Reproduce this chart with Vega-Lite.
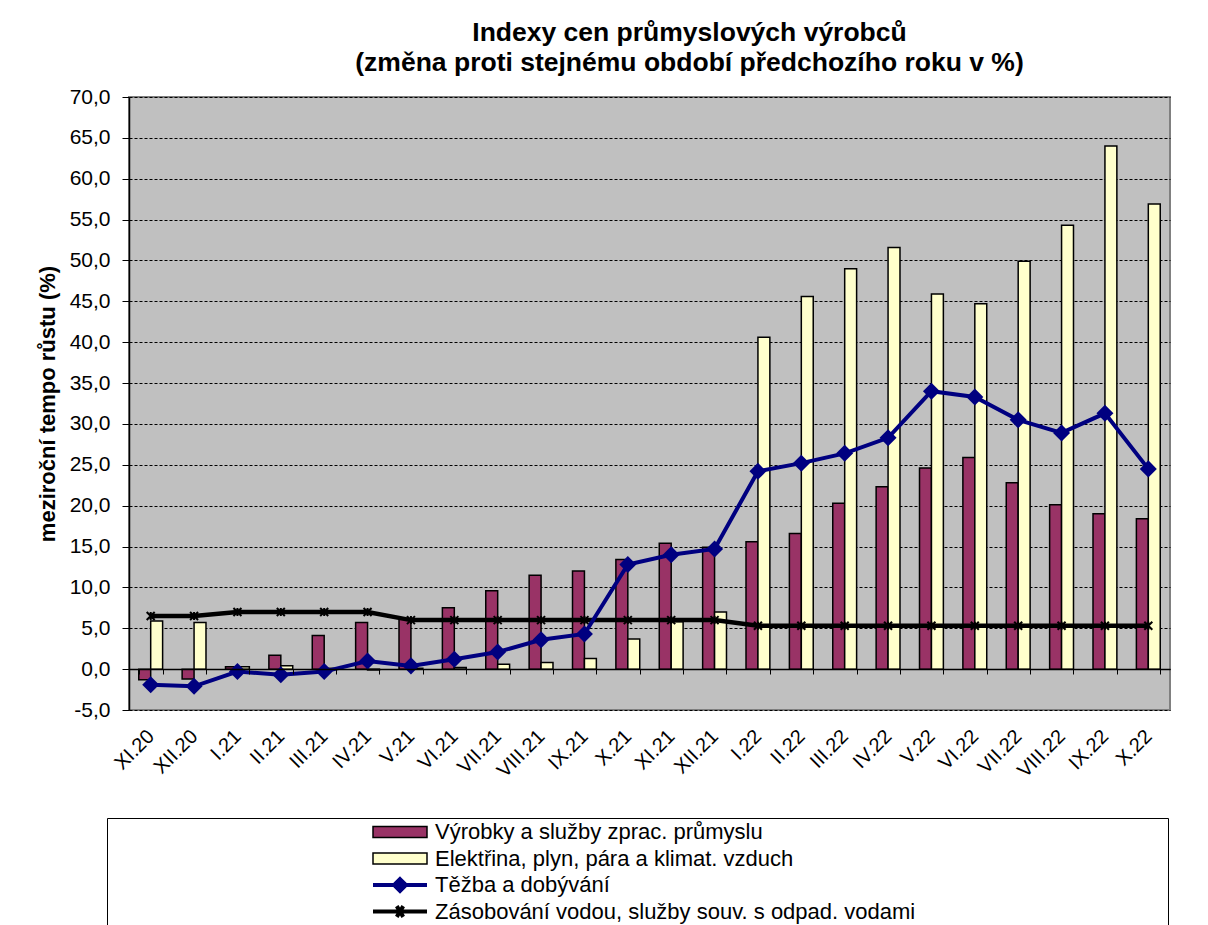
{
  "$schema": "https://vega.github.io/schema/vega-lite/v6.json",
  "width": 1041,
  "height": 613,
  "autosize": "none",
  "padding": {"left": 129, "top": 97, "right": 38, "bottom": 215},
  "background": "white",
  "config": {
    "font": "Liberation Sans",
    "view": {"fill": "#C0C0C0", "stroke": "#808080", "strokeWidth": 2},
    "legend": {
      "titleOrient": "right",
      "titleFontSize": 1,
      "titlePadding": 251,
      "orient": "none",
      "legendX": -22,
      "legendY": 721,
      "direction": "vertical",
      "fillColor": "white",
      "strokeColor": "black",
      "padding": 2,
      "symbolSize": 2916,
      "symbolOffset": 280,
      "labelOffset": 24,
      "labelFont": "Liberation Sans",
      "labelFontSize": 22,
      "labelColor": "black",
      "labelLimit": 700,
      "clipHeight": 24,
      "rowPadding": 2.5
    }
  },
  "title": {
    "text": ["Indexy cen průmyslových výrobců", "(změna proti stejnému období předchozího roku v %)"],
    "font": "Liberation Sans",
    "fontSize": 26.5,
    "fontWeight": "bold",
    "color": "black",
    "anchor": "middle",
    "frame": "group",
    "dx": 40,
    "offset": 10,
    "lineHeight": 30
  },
  "data": {"values": [
    {"m":"XI.20","s":"Výrobky a služby zprac. průmyslu","v":-1.3},
    {"m":"XII.20","s":"Výrobky a služby zprac. průmyslu","v":-1.2},
    {"m":"I.21","s":"Výrobky a služby zprac. průmyslu","v":0.3},
    {"m":"II.21","s":"Výrobky a služby zprac. průmyslu","v":1.7},
    {"m":"III.21","s":"Výrobky a služby zprac. průmyslu","v":4.1},
    {"m":"IV.21","s":"Výrobky a služby zprac. průmyslu","v":5.7},
    {"m":"V.21","s":"Výrobky a služby zprac. průmyslu","v":6.1},
    {"m":"VI.21","s":"Výrobky a služby zprac. průmyslu","v":7.5},
    {"m":"VII.21","s":"Výrobky a služby zprac. průmyslu","v":9.6},
    {"m":"VIII.21","s":"Výrobky a služby zprac. průmyslu","v":11.5},
    {"m":"IX.21","s":"Výrobky a služby zprac. průmyslu","v":12.0},
    {"m":"X.21","s":"Výrobky a služby zprac. průmyslu","v":13.4},
    {"m":"XI.21","s":"Výrobky a služby zprac. průmyslu","v":15.4},
    {"m":"XII.21","s":"Výrobky a služby zprac. průmyslu","v":14.9},
    {"m":"I.22","s":"Výrobky a služby zprac. průmyslu","v":15.6},
    {"m":"II.22","s":"Výrobky a služby zprac. průmyslu","v":16.6},
    {"m":"III.22","s":"Výrobky a služby zprac. průmyslu","v":20.3},
    {"m":"IV.22","s":"Výrobky a služby zprac. průmyslu","v":22.3},
    {"m":"V.22","s":"Výrobky a služby zprac. průmyslu","v":24.6},
    {"m":"VI.22","s":"Výrobky a služby zprac. průmyslu","v":25.9},
    {"m":"VII.22","s":"Výrobky a služby zprac. průmyslu","v":22.8},
    {"m":"VIII.22","s":"Výrobky a služby zprac. průmyslu","v":20.1},
    {"m":"IX.22","s":"Výrobky a služby zprac. průmyslu","v":19.0},
    {"m":"X.22","s":"Výrobky a služby zprac. průmyslu","v":18.4},
    {"m":"XI.20","s":"Elektřina, plyn, pára a klimat. vzduch","v":5.9},
    {"m":"XII.20","s":"Elektřina, plyn, pára a klimat. vzduch","v":5.7},
    {"m":"I.21","s":"Elektřina, plyn, pára a klimat. vzduch","v":0.3},
    {"m":"II.21","s":"Elektřina, plyn, pára a klimat. vzduch","v":0.4},
    {"m":"III.21","s":"Elektřina, plyn, pára a klimat. vzduch","v":0.1},
    {"m":"IV.21","s":"Elektřina, plyn, pára a klimat. vzduch","v":-0.1},
    {"m":"V.21","s":"Elektřina, plyn, pára a klimat. vzduch","v":0.1},
    {"m":"VI.21","s":"Elektřina, plyn, pára a klimat. vzduch","v":0.2},
    {"m":"VII.21","s":"Elektřina, plyn, pára a klimat. vzduch","v":0.6},
    {"m":"VIII.21","s":"Elektřina, plyn, pára a klimat. vzduch","v":0.8},
    {"m":"IX.21","s":"Elektřina, plyn, pára a klimat. vzduch","v":1.3},
    {"m":"X.21","s":"Elektřina, plyn, pára a klimat. vzduch","v":3.7},
    {"m":"XI.21","s":"Elektřina, plyn, pára a klimat. vzduch","v":5.8},
    {"m":"XII.21","s":"Elektřina, plyn, pára a klimat. vzduch","v":7.0},
    {"m":"I.22","s":"Elektřina, plyn, pára a klimat. vzduch","v":40.6},
    {"m":"II.22","s":"Elektřina, plyn, pára a klimat. vzduch","v":45.6},
    {"m":"III.22","s":"Elektřina, plyn, pára a klimat. vzduch","v":49.0},
    {"m":"IV.22","s":"Elektřina, plyn, pára a klimat. vzduch","v":51.6},
    {"m":"V.22","s":"Elektřina, plyn, pára a klimat. vzduch","v":45.9},
    {"m":"VI.22","s":"Elektřina, plyn, pára a klimat. vzduch","v":44.7},
    {"m":"VII.22","s":"Elektřina, plyn, pára a klimat. vzduch","v":49.9},
    {"m":"VIII.22","s":"Elektřina, plyn, pára a klimat. vzduch","v":54.3},
    {"m":"IX.22","s":"Elektřina, plyn, pára a klimat. vzduch","v":64.0},
    {"m":"X.22","s":"Elektřina, plyn, pára a klimat. vzduch","v":56.9},
    {"m":"XI.20","s":"Těžba a dobývání","v":-1.9},
    {"m":"XII.20","s":"Těžba a dobývání","v":-2.1},
    {"m":"I.21","s":"Těžba a dobývání","v":-0.3},
    {"m":"II.21","s":"Těžba a dobývání","v":-0.7},
    {"m":"III.21","s":"Těžba a dobývání","v":-0.3},
    {"m":"IV.21","s":"Těžba a dobývání","v":1.0},
    {"m":"V.21","s":"Těžba a dobývání","v":0.4},
    {"m":"VI.21","s":"Těžba a dobývání","v":1.2},
    {"m":"VII.21","s":"Těžba a dobývání","v":2.1},
    {"m":"VIII.21","s":"Těžba a dobývání","v":3.6},
    {"m":"IX.21","s":"Těžba a dobývání","v":4.3},
    {"m":"X.21","s":"Těžba a dobývání","v":12.8},
    {"m":"XI.21","s":"Těžba a dobývání","v":14.0},
    {"m":"XII.21","s":"Těžba a dobývání","v":14.7},
    {"m":"I.22","s":"Těžba a dobývání","v":24.2},
    {"m":"II.22","s":"Těžba a dobývání","v":25.2},
    {"m":"III.22","s":"Těžba a dobývání","v":26.4},
    {"m":"IV.22","s":"Těžba a dobývání","v":28.3},
    {"m":"V.22","s":"Těžba a dobývání","v":34.0},
    {"m":"VI.22","s":"Těžba a dobývání","v":33.3},
    {"m":"VII.22","s":"Těžba a dobývání","v":30.5},
    {"m":"VIII.22","s":"Těžba a dobývání","v":28.9},
    {"m":"IX.22","s":"Těžba a dobývání","v":31.3},
    {"m":"X.22","s":"Těžba a dobývání","v":24.5},
    {"m":"XI.20","s":"Zásobování vodou, služby souv. s odpad. vodami","v":6.5},
    {"m":"XII.20","s":"Zásobování vodou, služby souv. s odpad. vodami","v":6.5},
    {"m":"I.21","s":"Zásobování vodou, služby souv. s odpad. vodami","v":7.0},
    {"m":"II.21","s":"Zásobování vodou, služby souv. s odpad. vodami","v":7.0},
    {"m":"III.21","s":"Zásobování vodou, služby souv. s odpad. vodami","v":7.0},
    {"m":"IV.21","s":"Zásobování vodou, služby souv. s odpad. vodami","v":7.0},
    {"m":"V.21","s":"Zásobování vodou, služby souv. s odpad. vodami","v":6.0},
    {"m":"VI.21","s":"Zásobování vodou, služby souv. s odpad. vodami","v":6.0},
    {"m":"VII.21","s":"Zásobování vodou, služby souv. s odpad. vodami","v":6.0},
    {"m":"VIII.21","s":"Zásobování vodou, služby souv. s odpad. vodami","v":6.0},
    {"m":"IX.21","s":"Zásobování vodou, služby souv. s odpad. vodami","v":6.0},
    {"m":"X.21","s":"Zásobování vodou, služby souv. s odpad. vodami","v":6.0},
    {"m":"XI.21","s":"Zásobování vodou, služby souv. s odpad. vodami","v":6.0},
    {"m":"XII.21","s":"Zásobování vodou, služby souv. s odpad. vodami","v":6.0},
    {"m":"I.22","s":"Zásobování vodou, služby souv. s odpad. vodami","v":5.3},
    {"m":"II.22","s":"Zásobování vodou, služby souv. s odpad. vodami","v":5.3},
    {"m":"III.22","s":"Zásobování vodou, služby souv. s odpad. vodami","v":5.3},
    {"m":"IV.22","s":"Zásobování vodou, služby souv. s odpad. vodami","v":5.3},
    {"m":"V.22","s":"Zásobování vodou, služby souv. s odpad. vodami","v":5.3},
    {"m":"VI.22","s":"Zásobování vodou, služby souv. s odpad. vodami","v":5.3},
    {"m":"VII.22","s":"Zásobování vodou, služby souv. s odpad. vodami","v":5.3},
    {"m":"VIII.22","s":"Zásobování vodou, služby souv. s odpad. vodami","v":5.3},
    {"m":"IX.22","s":"Zásobování vodou, služby souv. s odpad. vodami","v":5.3},
    {"m":"X.22","s":"Zásobování vodou, služby souv. s odpad. vodami","v":5.3}
  ]},
  "encoding": {
    "x": {
      "field": "m",
      "type": "nominal",
      "scale": {
        "domain": ["XI.20","XII.20","I.21","II.21","III.21","IV.21","V.21","VI.21","VII.21","VIII.21","IX.21","X.21","XI.21","XII.21","I.22","II.22","III.22","IV.22","V.22","VI.22","VII.22","VIII.22","IX.22","X.22"],
        "paddingInner": 0.45,
        "paddingOuter": 0.225
      },
      "axis": {
        "title": null,
        "offset": -41,
        "domainColor": "black",
        "domainWidth": 1.5,
        "tickColor": "black",
        "tickSize": 5,
        "tickBand": "extent",
        "labelAngle": -45,
        "labelAlign": "right",
        "labelBaseline": "middle",
        "labelPadding": 59,
        "labelFont": "Liberation Sans",
        "labelFontSize": 20,
        "labelColor": "black",
        "labelOverlap": false,
        "grid": false,
        "zindex": 1
      }
    },
    "y": {
      "field": "v",
      "type": "quantitative",
      "scale": {"domain": [-5, 70], "nice": false, "zero": false},
      "axis": {
        "title": "meziroční tempo růstu (%)",
        "titleFont": "Liberation Sans",
        "titleFontSize": 22,
        "titleFontWeight": "bold",
        "titleColor": "black",
        "titlePadding": 10,
        "values": [-5,0,5,10,15,20,25,30,35,40,45,50,55,60,65,70],
        "labelExpr": "(datum.value < 0 ? '-' : '') + replace(format(abs(datum.value), '.1f'), '.', ',')",
        "labelFont": "Liberation Sans",
        "labelFontSize": 21,
        "labelColor": "black",
        "labelPadding": 12,
        "labelOverlap": false,
        "tickSize": 7,
        "tickColor": "black",
        "domainColor": "black",
        "domainWidth": 1.5,
        "grid": true,
        "gridColor": "black",
        "gridDash": [3, 2],
        "gridWidth": 1,
        "gridOpacity": 1
      }
    }
  },
  "layer": [
    {
      "transform": [{"filter": {"field": "s", "oneOf": ["Výrobky a služby zprac. průmyslu", "Elektřina, plyn, pára a klimat. vzduch"]}}],
      "mark": {"type": "bar", "stroke": "black", "strokeWidth": 1.5, "opacity": 1},
      "encoding": {
        "xOffset": {
          "field": "s",
          "type": "nominal",
          "scale": {"domain": ["Výrobky a služby zprac. průmyslu", "Elektřina, plyn, pára a klimat. vzduch"], "paddingInner": 0, "paddingOuter": 0}
        },
        "fill": {
          "field": "s",
          "type": "nominal",
          "scale": {
            "domain": ["Výrobky a služby zprac. průmyslu", "Elektřina, plyn, pára a klimat. vzduch", "Těžba a dobývání", "Zásobování vodou, služby souv. s odpad. vodami"],
            "range": ["#993366", "#FFFFCC", "#000080", "#000000"]
          },
          "legend": {
            "title": " ",
            "encode": {
              "symbols": {
                "update": {
                  "shape": {"signal": "datum.value === 'Těžba a dobývání' ? 'M-1,0L1,0M0,-0.22L0.22,0L0,0.22L-0.22,0Z' : (datum.value === 'Zásobování vodou, služby souv. s odpad. vodami' ? 'M-1,0L1,0M-0.12,-0.2L0.12,0.2M0.12,-0.2L-0.12,0.2' : 'M-1,-0.2L1,-0.2L1,0.2L-1,0.2Z')"},
                  "strokeWidth": {"signal": "(datum.value === 'Těžba a dobývání' || datum.value === 'Zásobování vodou, služby souv. s odpad. vodami') ? 4 : 1.5"},
                  "opacity": {"value": 1},
                  "fillOpacity": {"value": 1},
                  "strokeOpacity": {"value": 1}
                }
              }
            }
          }
        }
      }
    },
    {
      "transform": [{"filter": {"field": "s", "equal": "Zásobování vodou, služby souv. s odpad. vodami"}}],
      "mark": {"type": "line", "strokeWidth": 4.5},
      "encoding": {
        "stroke": {
          "field": "s",
          "type": "nominal",
          "scale": {
            "domain": ["Výrobky a služby zprac. průmyslu", "Elektřina, plyn, pára a klimat. vzduch", "Těžba a dobývání", "Zásobování vodou, služby souv. s odpad. vodami"],
            "range": ["#000000", "#000000", "#000080", "#000000"]
          },
          "legend": {
            "title": " ",
            "encode": {
              "symbols": {
                "update": {
                  "shape": {"signal": "datum.value === 'Těžba a dobývání' ? 'M-1,0L1,0M0,-0.22L0.22,0L0,0.22L-0.22,0Z' : (datum.value === 'Zásobování vodou, služby souv. s odpad. vodami' ? 'M-1,0L1,0M-0.12,-0.2L0.12,0.2M0.12,-0.2L-0.12,0.2' : 'M-1,-0.2L1,-0.2L1,0.2L-1,0.2Z')"},
                  "strokeWidth": {"signal": "(datum.value === 'Těžba a dobývání' || datum.value === 'Zásobování vodou, služby souv. s odpad. vodami') ? 4 : 1.5"},
                  "opacity": {"value": 1},
                  "fillOpacity": {"value": 1},
                  "strokeOpacity": {"value": 1}
                }
              }
            }
          }
        }
      }
    },
    {
      "transform": [{"filter": {"field": "s", "equal": "Zásobování vodou, služby souv. s odpad. vodami"}}],
      "mark": {"type": "point", "shape": "M-1,-1L1,1M1,-1L-1,1M0,-1L0,1", "filled": false, "size": 64, "strokeWidth": 2, "opacity": 1},
      "encoding": {
        "stroke": {
          "field": "s",
          "type": "nominal",
          "legend": {
            "title": " ",
            "encode": {
              "symbols": {
                "update": {
                  "shape": {"signal": "datum.value === 'Těžba a dobývání' ? 'M-1,0L1,0M0,-0.22L0.22,0L0,0.22L-0.22,0Z' : (datum.value === 'Zásobování vodou, služby souv. s odpad. vodami' ? 'M-1,0L1,0M-0.12,-0.2L0.12,0.2M0.12,-0.2L-0.12,0.2' : 'M-1,-0.2L1,-0.2L1,0.2L-1,0.2Z')"},
                  "strokeWidth": {"signal": "(datum.value === 'Těžba a dobývání' || datum.value === 'Zásobování vodou, služby souv. s odpad. vodami') ? 4 : 1.5"},
                  "opacity": {"value": 1},
                  "fillOpacity": {"value": 1},
                  "strokeOpacity": {"value": 1}
                }
              }
            }
          }
        }
      }
    },
    {
      "transform": [{"filter": {"field": "s", "equal": "Těžba a dobývání"}}],
      "mark": {"type": "line", "strokeWidth": 4},
      "encoding": {
        "stroke": {
          "field": "s",
          "type": "nominal",
          "legend": {
            "title": " ",
            "encode": {
              "symbols": {
                "update": {
                  "shape": {"signal": "datum.value === 'Těžba a dobývání' ? 'M-1,0L1,0M0,-0.22L0.22,0L0,0.22L-0.22,0Z' : (datum.value === 'Zásobování vodou, služby souv. s odpad. vodami' ? 'M-1,0L1,0M-0.12,-0.2L0.12,0.2M0.12,-0.2L-0.12,0.2' : 'M-1,-0.2L1,-0.2L1,0.2L-1,0.2Z')"},
                  "strokeWidth": {"signal": "(datum.value === 'Těžba a dobývání' || datum.value === 'Zásobování vodou, služby souv. s odpad. vodami') ? 4 : 1.5"},
                  "opacity": {"value": 1},
                  "fillOpacity": {"value": 1},
                  "strokeOpacity": {"value": 1}
                }
              }
            }
          }
        }
      }
    },
    {
      "transform": [{"filter": {"field": "s", "equal": "Těžba a dobývání"}}],
      "mark": {"type": "point", "shape": "diamond", "filled": true, "size": 290, "opacity": 1},
      "encoding": {
        "fill": {
          "field": "s",
          "type": "nominal",
          "legend": {
            "title": " ",
            "encode": {
              "symbols": {
                "update": {
                  "shape": {"signal": "datum.value === 'Těžba a dobývání' ? 'M-1,0L1,0M0,-0.22L0.22,0L0,0.22L-0.22,0Z' : (datum.value === 'Zásobování vodou, služby souv. s odpad. vodami' ? 'M-1,0L1,0M-0.12,-0.2L0.12,0.2M0.12,-0.2L-0.12,0.2' : 'M-1,-0.2L1,-0.2L1,0.2L-1,0.2Z')"},
                  "strokeWidth": {"signal": "(datum.value === 'Těžba a dobývání' || datum.value === 'Zásobování vodou, služby souv. s odpad. vodami') ? 4 : 1.5"},
                  "opacity": {"value": 1},
                  "fillOpacity": {"value": 1},
                  "strokeOpacity": {"value": 1}
                }
              }
            }
          }
        }
      }
    }
  ]
}
